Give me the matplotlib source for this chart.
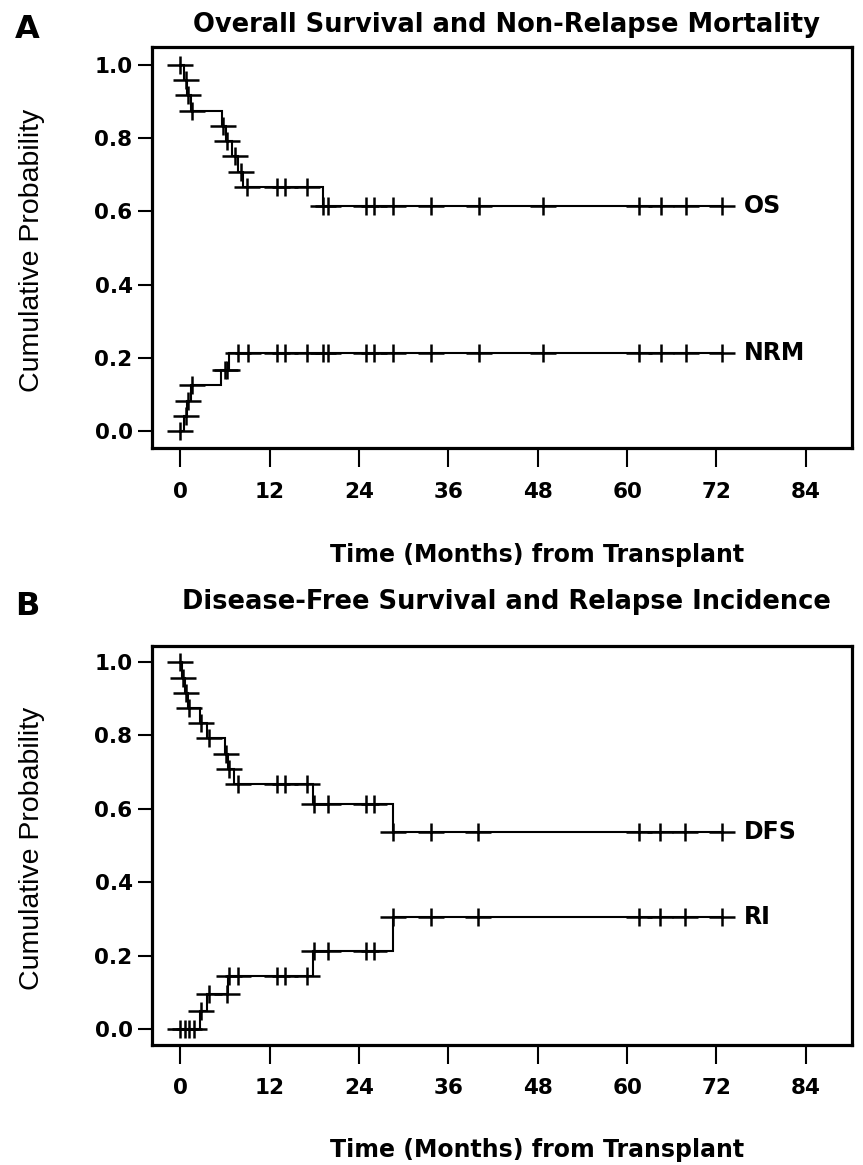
import numpy as np
import matplotlib
matplotlib.use("Agg")
import matplotlib.pyplot as plt
from matplotlib.path import Path

# ---------------- data (months, probabilities) ----------------
x_ticks = [0, 12, 24, 36, 48, 60, 72, 84]
y_ticks = [0.0, 0.2, 0.4, 0.6, 0.8, 1.0]

# Panel A: overall survival
os_step_t = [0, 0.5, 0.9, 1.4, 5.6, 6.2, 6.9, 7.7, 8.4, 19.1]
os_step_v = [1.0, 0.958, 0.917, 0.875, 0.833, 0.792, 0.750, 0.708, 0.667, 0.614]
os_cens = [0, 0.7, 1.1, 1.6, 5.7, 6.3, 7.3, 8.1, 9.0, 13.0, 14.0, 17.0, 19.2, 19.8,
           24.9, 26.0, 28.5, 33.7, 40.1, 48.7, 61.6, 64.5, 67.9, 72.7]

# Panel A: non-relapse mortality
nrm_step_t = [0, 0.5, 0.9, 1.4, 5.5, 6.5]
nrm_step_v = [0.0, 0.042, 0.083, 0.125, 0.167, 0.213]
nrm_cens = [0, 0.7, 1.1, 1.6, 6.0, 6.3, 7.8, 9.1, 13.0, 14.0, 17.0, 19.2, 19.8,
            24.9, 26.0, 28.5, 33.7, 40.1, 48.7, 61.6, 64.5, 67.9, 72.7]

# Panel B: disease-free survival
dfs_step_t = [0, 0.2, 0.6, 1.0, 2.6, 3.6, 6.0, 6.4, 7.2, 17.8, 28.5]
dfs_step_v = [1.0, 0.958, 0.917, 0.875, 0.833, 0.792, 0.750, 0.708, 0.667, 0.614, 0.537]
dfs_cens = [0, 0.4, 0.8, 1.2, 2.8, 3.8, 6.2, 6.6, 7.7, 13.0, 14.0, 17.0, 17.9, 19.9,
            24.9, 26.0, 28.6, 33.7, 40.0, 61.6, 64.4, 67.8, 72.7]

# Panel B: relapse incidence
ri_step_t = [0, 2.7, 3.6, 6.45, 17.8, 28.5]
ri_step_v = [0.0, 0.048, 0.095, 0.143, 0.211, 0.305]
ri_cens = [0, 0.6, 1.2, 1.8, 2.8, 3.8, 6.3, 6.6, 7.8, 13.0, 14.0, 17.0, 17.9, 19.9,
           24.9, 26.0, 28.6, 33.7, 40.0, 61.6, 64.4, 67.8, 72.7]

titles = ["Overall Survival and Non-Relapse Mortality",
          "Disease-Free Survival and Relapse Incidence"]
panel_letters = ["A", "B"]
curve_labels = [["OS", "NRM"], ["DFS", "RI"]]
x_label = "Time (Months) from Transplant"
y_label = "Cumulative Probability"

# ---------------- drawing ----------------
plt.rcParams["font.family"] = ["DejaVu Sans"]

W, H = 863, 1165
fig = plt.figure(figsize=(W / 100, H / 100), dpi=100)

# censor mark: a plus sign wider than tall
cross = Path([(-13, 0), (13, 0), (0, -9.5), (0, 9.5)],
             [Path.MOVETO, Path.LINETO, Path.MOVETO, Path.LINETO])


def draw_curve(ax, t, v, cens, label):
    t = np.asarray(t, float)
    v = np.asarray(v, float)
    cens = np.asarray(cens, float)
    end = cens.max()
    xs = np.append(t, end)
    ys = np.append(v, v[-1])
    ax.step(xs, ys, where="post", color="black", lw=1.5, solid_joinstyle="miter")
    idx = np.searchsorted(t, cens, side="right") - 1
    ax.plot(cens, v[idx], linestyle="none", marker=cross, ms=18.5,
            mec="black", mfc="none", mew=1.8)
    ax.text(75.7, v[-1], label, ha="left", va="center", fontsize=17,
            fontweight="bold")


# pixel geometry of the two axes: (left, top, right, bottom)
boxes = [(152, 46.7, 852, 448.5), (152, 646, 852, 1045)]
ylims = [(-0.048, 1.05), (-0.044, 1.044)]
title_base = [32, 609]
letter_base = [38, 615]
xlabel_y = [555, 1150]

curves = [[(os_step_t, os_step_v, os_cens), (nrm_step_t, nrm_step_v, nrm_cens)],
          [(dfs_step_t, dfs_step_v, dfs_cens), (ri_step_t, ri_step_v, ri_cens)]]

for i in range(2):
    l, t, r, b = boxes[i]
    ax = fig.add_axes([l / W, 1 - b / H, (r - l) / W, (b - t) / H])
    ax.set_xlim(-3.8, 90.2)
    ax.set_ylim(*ylims[i])
    for s in ax.spines.values():
        s.set_linewidth(2.3)
    ax.set_xticks(x_ticks)
    ax.set_yticks(y_ticks)
    ax.set_yticklabels([f"{y:.1f}" for y in y_ticks])
    ax.tick_params(axis="x", direction="out", length=14, width=1.5, pad=10,
                   labelsize=15.5)
    ax.tick_params(axis="y", direction="out", length=10, width=1.5, pad=4,
                   labelsize=15.5)
    for lab in ax.get_xticklabels() + ax.get_yticklabels():
        lab.set_fontweight("bold")

    for (st, sv, sc), name in zip(curves[i], curve_labels[i]):
        draw_curve(ax, st, sv, sc, name)

    cx = (l + r) / 2 / W
    fig.text(506 / W, 1 - title_base[i] / H, titles[i], ha="center",
             va="baseline", fontsize=18.5, fontweight="bold")
    fig.text(27 / W, 1 - letter_base[i] / H, panel_letters[i], ha="center",
             va="baseline", fontsize=23, fontweight="bold")
    fig.text(537 / W, 1 - xlabel_y[i] / H, x_label, ha="center", va="center",
             fontsize=17, fontweight="bold")
    fig.text(32 / W, 1 - ((t + b) / 2 + 3) / H, y_label, rotation=90,
             ha="center", va="center", fontsize=20.5,
             family=["Liberation Sans", "DejaVu Sans"])

fig.savefig("out.png", dpi=100, facecolor="white")
